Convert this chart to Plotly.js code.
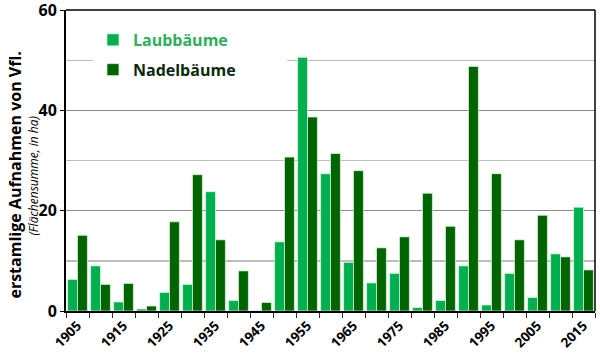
<!DOCTYPE html>
<html><head><meta charset="utf-8">
<script src="https://cdn.plot.ly/plotly-3.0.1.min.js"></script>
<style>body{margin:0;background:#fff}#c{width:600px;height:354px}</style>
</head><body><div id="c"></div>
<script>
const years = [1905,1910,1915,1920,1925,1930,1935,1940,1945,1950,1955,1960,1965,1970,1975,1980,1985,1990,1995,2000,2005,2010,2015];
const laub  = [6.3,9.0,1.8,0.4,3.7,5.3,23.8,2.1,0.1,13.8,50.6,27.4,9.7,5.6,7.5,0.7,2.1,9.0,1.2,7.5,2.7,11.4,20.7];
const nadel = [15.1,5.3,5.5,1.0,17.8,27.2,14.2,8.0,1.7,30.7,38.7,31.4,28.0,12.6,14.8,23.5,16.9,48.8,27.4,14.2,19.1,10.8,8.2];
const tickYears = [1905,1915,1925,1935,1945,1955,1965,1975,1985,1995,2005,2015];
const seriesNames = ["Laubbäume","Nadelbäume"];
const yTitle = "erstamlige Aufnahmen von Vfl.";
const ySub = "(Flächensumme, in ha)";

const data = [
  {type:'bar', x:years, y:laub, name:"<span style='color:#2fae5a'>"+seriesNames[0]+"</span>",
   legendgroup:'a', marker:{color:'#00b050', line:{color:'rgba(220,255,220,0.7)', width:1}}},
  {type:'bar', x:years, y:nadel, name:"<span style='color:#0b2a0b'>"+seriesNames[1]+"</span>",
   legendgroup:'b', marker:{color:'#006400', line:{color:'rgba(220,255,220,0.7)', width:1}}}
];
const layout = {
  width:600, height:354,
  margin:{l:66, r:5, t:10, b:43},
  paper_bgcolor:'#fff', plot_bgcolor:'#fff',
  barmode:'group', bargap:0.14, bargroupgap:0,
  font:{family:'Open Sans, Liberation Sans, sans-serif', color:'#000'},
  showlegend:true,
  legend:{x:0.051, y:0.957, xanchor:'left', yanchor:'top', bgcolor:'#fff',
    font:{size:16, family:'Open Sans, sans-serif', weight:'bold'},
    traceorder:'grouped', tracegroupgap:6, itemwidth:30},
  xaxis:{range:[1902.5,2017.5], tickvals:tickYears, ticktext:tickYears.map(String),
    tickangle:-45, ticks:'', showgrid:false, zeroline:false,
    showline:true, linecolor:'#000', linewidth:1.5, mirror:false,
    tickfont:{size:13.5, weight:'bold', color:'#000'},
    minor:{tick0:1902.5, dtick:5, ticks:'outside', ticklen:5, tickcolor:'#333', showgrid:false}},
  yaxis:{range:[0,60.05], dtick:20, tick0:0, showgrid:true, gridcolor:'#8a8a8a', gridwidth:1.2,
    zeroline:false, showline:true, linecolor:'#000', linewidth:2, mirror:false,
    ticks:'outside', ticklen:4, tickcolor:'#000', ticklabeloverflow:'allow',
    tickfont:{size:16, weight:'bold', color:'#000'},
    minor:{dtick:10, showgrid:true, gridcolor:'#bdbdbd', gridwidth:1.5, ticks:''}},
  shapes:[
    {type:'rect', xref:'paper', yref:'paper', x0:0.051, x1:0.418, y0:0.80, y1:0.96, layer:'above',
     fillcolor:'#fff', line:{width:0}},
    {type:'line', xref:'paper', yref:'paper', x0:0, x1:1, y0:1, y1:1, line:{color:'#000', width:1.5}},
    {type:'line', xref:'paper', yref:'paper', x0:1, x1:1, y0:0, y1:1, line:{color:'#000', width:1.5}}
  ],
  annotations:[
    {xref:'paper', yref:'paper', x:-0.0964, y:0.45, text:'<b>'+yTitle+'</b>', textangle:-90,
     showarrow:false, font:{size:16, color:'#000'}, xanchor:'center', yanchor:'middle'},
    {xref:'paper', yref:'paper', x:-0.0605, y:0.45, text:'<i>'+ySub+'</i>', textangle:-90,
     showarrow:false, font:{size:12, color:'#000'}, xanchor:'center', yanchor:'middle'}
  ]
};
Plotly.newPlot('c', data, layout, {staticPlot:true, displayModeBar:false});
</script></body></html>
